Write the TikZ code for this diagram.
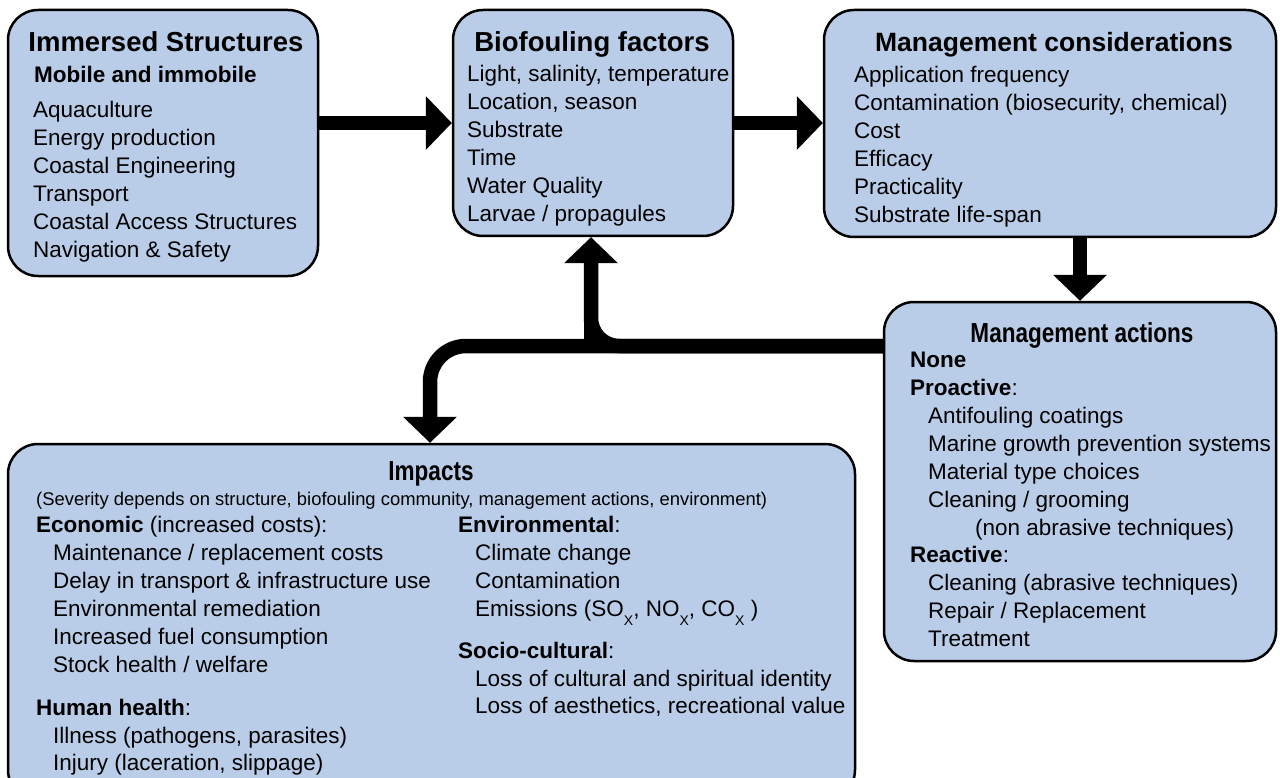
\documentclass[tikz,border=0pt]{standalone}
\usepackage{fontspec}
\setmainfont{Liberation Sans}
\newfontfamily\narrowfont[FakeStretch=0.82]{Liberation Sans}
\usepackage{tikz}
\usetikzlibrary{positioning,arrows.meta}
\definecolor{boxblue}{RGB}{185,205,232}
\newcommand{\subx}{\raisebox{-9pt}{\fontsize{14}{14}\selectfont X}}

\begin{document}
\begin{tikzpicture}
  [x=1pt,y=-1pt,
   box/.style={draw, line width=2.5pt, fill=boxblue, rounded corners=30pt, inner sep=0pt},
   ttl/.style={font=\fontsize{27.5}{33}\selectfont\bfseries, anchor=base, inner sep=0pt},
   nttl/.style={font=\narrowfont\fontsize{27.5}{33}\selectfont\bfseries, anchor=base, inner sep=0pt},
   body/.style={font=\fontsize{22.5}{27}\selectfont, anchor=base west, inner sep=0pt},
   note/.style={font=\fontsize{18.4}{22}\selectfont, anchor=base west, inner sep=0pt},
   arr/.style={line width=14.5pt, -{Triangle[width=54pt,length=26pt,line width=0pt]}}]
  \useasboundingbox (0,0) rectangle (1280,778);

  % boxes
  \node[box, minimum width=310pt, minimum height=266pt] (struct) at (163,143) {};
  \node[box, minimum width=280pt, minimum height=226pt] (factors) at (593,123) {};
  \node[box, minimum width=452pt, minimum height=227pt] (consid) at (1050,123.5) {};
  \node[box, minimum width=392pt, minimum height=359pt] (actions) at (1080,481.5) {};
  \node[box, minimum width=847pt, minimum height=356pt] (impacts) at (431.5,622) {};

  % immersed structures
  \node[ttl] (t1) at (166,52) {Immersed Structures};
  \node[body, font=\fontsize{22.5}{27}\selectfont\bfseries] (mob) at (34,83) {Mobile and immobile};
  \foreach \t [count=\i from 0] in {Aquaculture, Energy production, Coastal Engineering,
      Transport, Coastal Access Structures, Navigation \& Safety}
    \node[body] (s\i) at (33,118+28*\i) {\t};

  % biofouling factors
  \node[ttl] (t2) at (592,52) {Biofouling factors};
  \foreach \t [count=\i from 0] in {{Light, salinity, temperature}, {Location, season},
      Substrate, Time, Water Quality, Larvae / propagules}
    \node[body] (f\i) at (467,82+28*\i) {\t};

  % management considerations
  \node[ttl, font=\fontsize{26.5}{32}\selectfont\bfseries] (t3) at (1054,52) {Management considerations};
  \foreach \t [count=\i from 0] in {Application frequency, {Contamination (biosecurity, chemical)},
      Cost, Efficacy, Practicality, Substrate life-span}
    \node[body] (c\i) at (854,83+28*\i) {\t};

  % management actions
  \node[nttl] (t4) at (1082,342) {Management actions};
  \node[body] (none) at (910,367) {\textbf{None}};
  \node[body] (pro) at (910,395) {\textbf{Proactive}:};
  \foreach \t [count=\i from 0] in {Antifouling coatings, Marine growth prevention systems,
      Material type choices, Cleaning / grooming}
    \node[body] (p\i) at (928,423+28*\i) {\t};
  \node[body] (nonab) at (975,535) {(non abrasive techniques)};
  \node[body] (rea) at (910,562) {\textbf{Reactive}:};
  \foreach \t [count=\i from 0] in {Cleaning (abrasive techniques), Repair / Replacement, Treatment}
    \node[body] (r\i) at (928,590+28*\i) {\t};

  % impacts
  \node[nttl] (t5) at (431,480) {Impacts};
  \node[note] (sev) at (36,505) {(Severity depends on structure, biofouling community, management actions, environment)};
  \node[body] (eco) at (36,532) {\textbf{Economic} (increased costs):};
  \foreach \t [count=\i from 0] in {Maintenance / replacement costs, Delay in transport \& infrastructure use,
      Environmental remediation, Increased fuel consumption, Stock health / welfare}
    \node[body] (e\i) at (53,560+28*\i) {\t};
  \node[body] (hum) at (36,715) {\textbf{Human health}:};
  \node[body] (h0) at (53,743) {Illness (pathogens, parasites)};
  \node[body] (h1) at (53,770) {Injury (laceration, slippage)};
  \node[body] (env) at (458,532) {\textbf{Environmental}:};
  \node[body] (v0) at (475,560) {Climate change};
  \node[body] (v1) at (475,588) {Contamination};
  \node[body] (v2) at (475,616) {Emissions (SO\subx, NO\subx, CO\subx\ )};
  \node[body] (soc) at (458,658) {\textbf{Socio-cultural}:};
  \node[body] (o0) at (475,686) {Loss of cultural and spiritual identity};
  \node[body] (o1) at (475,713) {Loss of aesthetics, recreational value};

  % arrows
  \coordinate (split) at (591,346);
  \coordinate (bend) at (430,346);
  \draw[arr] (struct.east |- factors.west) -- (factors.west);
  \draw[arr] (factors.east) -- (consid.west |- factors.east);
  \draw[arr] (consid.south -| actions.north) -- (actions.north);
  \draw[arr, rounded corners=36pt] (actions.west |- split) -- (bend) -- (impacts.north -| bend);
  \draw[arr, rounded corners=28pt] (actions.west |- split) -- (split) -- (factors.south -| split);
  \draw[line width=14.5pt] (split) -- ([yshift=40pt]split);
\end{tikzpicture}
\end{document}
